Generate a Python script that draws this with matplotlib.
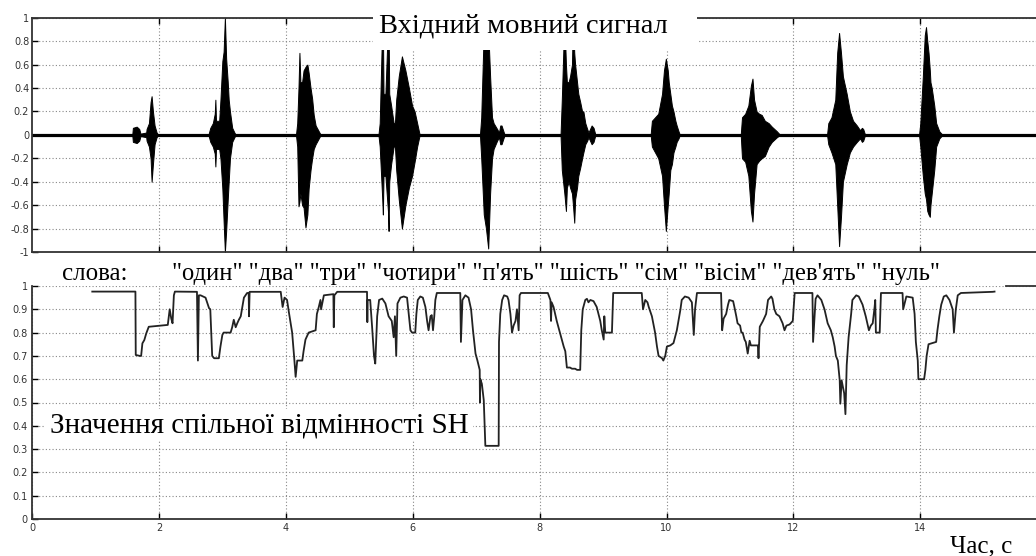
import numpy as np
import matplotlib.pyplot as plt
from matplotlib.patches import Rectangle
from matplotlib.ticker import FormatStrFormatter

# speech signal envelope (upper / lower), seconds
wave_t = [1.58, 1.59, 1.65, 1.69, 1.71, 1.80,
          1.806, 1.843, 1.869, 1.885, 1.906, 1.932, 1.964, 1.99,
          2.78, 2.81, 2.85, 2.88, 2.89, 2.90, 2.95, 2.97, 3.00, 3.02, 3.04, 3.06, 3.085, 3.10, 3.12, 3.155, 3.19, 3.21,
          4.16, 4.18, 4.20, 4.215, 4.23, 4.257, 4.28, 4.31, 4.34, 4.36, 4.39, 4.415, 4.44, 4.47, 4.52, 4.55,
          5.46, 5.48, 5.52, 5.53, 5.54, 5.57, 5.61, 5.62, 5.63, 5.66, 5.70, 5.72,
          5.74, 5.78, 5.83, 5.885, 5.94, 5.99, 6.03, 6.07, 6.11,
          7.06, 7.08, 7.12, 7.155, 7.19, 7.22, 7.25, 7.275, 7.33, 7.36, 7.38, 7.40, 7.43, 7.45,
          8.33, 8.35, 8.39, 8.415, 8.43, 8.457, 8.48, 8.51, 8.526, 8.546, 8.56, 8.59, 8.61, 8.64, 8.67, 8.69, 8.72, 8.75, 8.77, 8.82, 8.85, 8.88,
          9.75, 9.77, 9.82, 9.87, 9.93, 9.96, 9.99, 10.02, 10.035, 10.06, 10.085, 10.11, 10.14, 10.16, 10.19, 10.21,
          11.17, 11.19, 11.24, 11.29, 11.33, 11.355, 11.38, 11.42, 11.46, 11.50, 11.55, 11.61, 11.66, 11.74, 11.79,
          12.53, 12.55, 12.60, 12.66, 12.69, 12.72, 12.75, 12.78, 12.84, 12.89, 12.94, 13.0, 13.05, 13.08, 13.10, 13.13,
          13.98, 14.0, 14.04, 14.07, 14.09, 14.11, 14.13, 14.15, 14.16, 14.18, 14.22, 14.25, 14.30, 14.35]
wave_hi = [0, 0.06, 0.07, 0.05, 0.01, 0.02,
           0.05, 0.10, 0.28, 0.33, 0.20, 0.08, 0.02, 0,
           0, 0.06, 0.10, 0.18, 0.30, 0.12, 0.12, 0.30, 0.63, 0.71, 1.0, 0.65, 0.45, 0.30, 0.20, 0.06, 0.02, 0,
           0, 0.10, 0.40, 0.70, 0.45, 0.45, 0.55, 0.58, 0.60, 0.53, 0.40, 0.31, 0.17, 0.08, 0.03, 0,
           0, 0.10, 0.95, 0.95, 0.35, 0.35, 0.95, 0.95, 0.35, 0.25, 0.10, 0.10,
           0.30, 0.50, 0.67, 0.55, 0.40, 0.25, 0.20, 0.10, 0,
           0, 0.15, 0.90, 1.0, 0.90, 0.50, 0.15, 0.10, 0.05, 0.02, 0.08, 0.08, 0.03, 0,
           0, 0.30, 1.0, 0.60, 0.45, 0.45, 0.50, 0.60, 1.0, 0.70, 0.60, 0.45, 0.35, 0.28, 0.20, 0.20, 0.10, 0.05, 0.02, 0.08, 0.06, 0,
           0, 0.12, 0.15, 0.18, 0.35, 0.55, 0.65, 0.55, 0.45, 0.35, 0.25, 0.20, 0.12, 0.08, 0.03, 0,
           0, 0.15, 0.18, 0.25, 0.42, 0.48, 0.30, 0.20, 0.18, 0.17, 0.12, 0.10, 0.07, 0.03, 0,
           0, 0.10, 0.15, 0.30, 0.70, 0.87, 0.70, 0.50, 0.35, 0.20, 0.12, 0.08, 0.04, 0.06, 0.05, 0,
           0, 0.10, 0.50, 0.85, 0.92, 0.80, 0.70, 0.55, 0.45, 0.40, 0.25, 0.10, 0.03, 0]
wave_lo = [0, -0.06, -0.07, -0.05, -0.01, -0.02,
           -0.05, -0.10, -0.20, -0.40, -0.25, -0.08, -0.02, 0,
           0, -0.06, -0.10, -0.16, -0.27, -0.12, -0.12, -0.20, -0.46, -0.74, -1.0, -0.82, -0.55, -0.40, -0.20, -0.06, -0.02, 0,
           0, -0.10, -0.61, -0.57, -0.50, -0.60, -0.62, -0.79, -0.68, -0.46, -0.30, -0.20, -0.12, -0.08, -0.03, 0,
           0, -0.10, -0.55, -0.68, -0.35, -0.35, -0.65, -0.82, -0.40, -0.25, -0.10, -0.10,
           -0.30, -0.55, -0.80, -0.60, -0.45, -0.35, -0.23, -0.10, 0,
           0, -0.20, -0.68, -0.80, -0.97, -0.50, -0.20, -0.12, -0.05, -0.02, -0.08, -0.08, -0.03, 0,
           0, -0.30, -0.50, -0.65, -0.45, -0.40, -0.45, -0.50, -0.60, -0.75, -0.55, -0.45, -0.35, -0.28, -0.20, -0.15, -0.08, -0.05, -0.02, -0.08, -0.06, 0,
           0, -0.10, -0.15, -0.20, -0.35, -0.60, -0.82, -0.60, -0.50, -0.30, -0.25, -0.15, -0.10, -0.06, -0.03, 0,
           0, -0.20, -0.23, -0.35, -0.65, -0.74, -0.50, -0.25, -0.22, -0.20, -0.18, -0.10, -0.06, -0.02, 0,
           0, -0.08, -0.15, -0.25, -0.60, -0.95, -0.70, -0.40, -0.25, -0.15, -0.10, -0.06, -0.03, -0.06, -0.05, 0,
           0, -0.10, -0.35, -0.50, -0.55, -0.65, -0.68, -0.70, -0.60, -0.50, -0.30, -0.10, -0.03, 0]

# SH values
sh_t = [0.95, 1.63, 1.635, 1.70, 1.72, 1.74, 1.77, 1.80, 1.84, 2.14,
        2.157, 2.17, 2.195, 2.215, 2.236, 2.252, 2.60, 2.615, 2.63, 2.657, 2.735, 2.79, 2.81, 2.84, 2.87, 2.945,
        2.97, 3.0, 3.02, 3.13, 3.155, 3.18, 3.21, 3.235, 3.26, 3.29, 3.34, 3.39, 3.415, 3.42, 3.43, 3.92,
        3.95, 3.98, 4.02, 4.05, 4.10, 4.13, 4.155, 4.18, 4.26, 4.28, 4.31, 4.36, 4.47, 4.49, 4.52, 4.546,
        4.556, 4.60, 4.75, 4.756, 4.765, 4.81, 5.27,
        5.28, 5.285, 5.29, 5.33, 5.36, 5.39, 5.41, 5.44, 5.47, 5.52, 5.57, 5.62, 5.67, 5.70, 5.72, 5.74, 5.76,
        5.806, 5.859, 5.911, 5.937, 5.964, 5.99, 6.04, 6.058, 6.08, 6.12, 6.16, 6.20, 6.227, 6.25, 6.28, 6.30,
        6.32, 6.34, 6.357, 6.38, 6.75, 6.76, 6.784, 6.83, 6.88, 6.92, 6.95, 6.99, 7.02, 7.056, 7.06, 7.066,
        7.09, 7.12, 7.145, 7.355, 7.36, 7.38, 7.41, 7.44, 7.49, 7.51, 7.54, 7.565, 7.59, 7.62, 7.643, 7.67,
        7.685, 7.706, 8.13, 8.17, 8.18, 8.19, 8.22, 8.27, 8.32, 8.38, 8.405, 8.43, 8.48, 8.51, 8.56, 8.59,
        8.64, 8.657, 8.68, 8.72, 8.746, 8.77, 8.80, 8.85, 8.90, 8.956, 8.98, 9.01, 9.02, 9.035, 9.09, 9.14,
        9.16, 9.61, 9.63, 9.665, 9.70, 9.72, 9.77, 9.82, 9.85, 9.875, 9.93, 9.95, 9.98, 10.006, 10.06, 10.11,
        10.163, 10.22, 10.24, 10.29, 10.35, 10.40, 10.43, 10.45, 10.48, 10.86, 10.877, 10.90, 10.94, 10.97,
        10.99, 11.05, 11.07, 11.10, 11.12, 11.16, 11.18, 11.20, 11.23, 11.25, 11.28, 11.31, 11.33, 11.44,
        11.45, 11.47, 11.52, 11.57, 11.60, 11.65, 11.67, 11.70, 11.73, 11.78, 11.83, 11.86, 11.89, 11.94,
        11.99, 12.02, 12.30, 12.31, 12.35, 12.38, 12.44, 12.49, 12.54, 12.59, 12.62, 12.65, 12.67, 12.70,
        12.73, 12.74, 12.76, 12.78, 12.80, 12.82, 12.84, 12.87, 12.91, 12.93, 12.99, 13.03, 13.09, 13.14,
        13.19, 13.22, 13.25, 13.28, 13.29, 13.30, 13.36, 13.38, 13.72, 13.73, 13.78, 13.88, 13.91, 13.93,
        13.96, 13.97, 14.06, 14.08, 14.10, 14.13, 14.25, 14.27, 14.30, 14.33, 14.37, 14.41, 14.46, 14.51,
        14.53, 14.56, 14.59, 14.64, 15.14, 15.17]
sh_v = [0.976, 0.976, 0.704, 0.70, 0.70, 0.754, 0.768, 0.796, 0.825, 0.833,
        0.87, 0.90, 0.86, 0.84, 0.96, 0.976, 0.975, 0.68, 0.96, 0.96, 0.95, 0.905, 0.90, 0.70, 0.69, 0.69,
        0.74, 0.79, 0.80, 0.80, 0.823, 0.855, 0.823, 0.84, 0.855, 0.87, 0.95, 0.97, 0.97, 0.87, 0.975, 0.975,
        0.91, 0.95, 0.94, 0.885, 0.80, 0.70, 0.61, 0.68, 0.68, 0.72, 0.77, 0.80, 0.81, 0.88, 0.91, 0.94,
        0.90, 0.96, 0.965, 0.823, 0.96, 0.975, 0.975,
        0.975, 0.845, 0.94, 0.94, 0.825, 0.70, 0.667, 0.87, 0.94, 0.946, 0.925, 0.87, 0.85, 0.78, 0.87, 0.70, 0.925,
        0.95, 0.955, 0.95, 0.88, 0.81, 0.80, 0.80, 0.88, 0.94, 0.955, 0.95, 0.91, 0.85, 0.81, 0.87, 0.875,
        0.81, 0.87, 0.94, 0.97, 0.97, 0.76, 0.94, 0.96, 0.95, 0.90, 0.81, 0.71, 0.68, 0.64, 0.50, 0.60,
        0.58, 0.51, 0.314, 0.314, 0.76, 0.88, 0.94, 0.96, 0.955, 0.94, 0.88, 0.80, 0.83, 0.85, 0.90, 0.81,
        0.96, 0.97, 0.97, 0.94, 0.85, 0.93, 0.91, 0.85, 0.80, 0.74, 0.72, 0.65, 0.65, 0.645, 0.645, 0.64,
        0.64, 0.81, 0.90, 0.94, 0.945, 0.93, 0.94, 0.935, 0.91, 0.85, 0.81, 0.77, 0.87, 0.80, 0.80, 0.80,
        0.97, 0.97, 0.90, 0.94, 0.93, 0.91, 0.87, 0.80, 0.74, 0.70, 0.69, 0.68, 0.70, 0.74, 0.745, 0.755,
        0.81, 0.90, 0.94, 0.955, 0.95, 0.93, 0.79, 0.90, 0.97, 0.97, 0.81, 0.86, 0.88, 0.92,
        0.94, 0.935, 0.91, 0.87, 0.84, 0.83, 0.80, 0.80, 0.77, 0.76, 0.71, 0.765, 0.745, 0.745,
        0.69, 0.825, 0.85, 0.88, 0.94, 0.955, 0.945, 0.90, 0.88, 0.87, 0.84, 0.81, 0.83, 0.835,
        0.85, 0.97, 0.97, 0.76, 0.945, 0.96, 0.94, 0.90, 0.84, 0.81, 0.78, 0.74, 0.70, 0.68,
        0.595, 0.495, 0.595, 0.567, 0.54, 0.45, 0.66, 0.78, 0.88, 0.94, 0.96, 0.955, 0.92, 0.87,
        0.81, 0.83, 0.84, 0.91, 0.94, 0.80, 0.80, 0.97, 0.97, 0.90, 0.955, 0.95, 0.88, 0.76,
        0.68, 0.60, 0.60, 0.64, 0.70, 0.75, 0.76, 0.81, 0.87, 0.92, 0.955, 0.96, 0.94, 0.90,
        0.80, 0.90, 0.96, 0.97, 0.975, 0.976]

words = '"один" "два" "три" "чотири" "п\'ять" "шість" "сім" "вісім" "дев\'ять" "нуль"'

top_yticks = [-1, -0.8, -0.6, -0.4, -0.2, 0, 0.2, 0.4, 0.6, 0.8, 1]
bot_yticks = [0, 0.1, 0.2, 0.3, 0.4, 0.5, 0.6, 0.7, 0.8, 0.9, 1]

W, H = 1036, 556
serif = 'Liberation Serif'
plt.rcParams['axes.unicode_minus'] = False

def fx(px):
    return px / W

def fy(py):
    return 1 - py / H

fig = plt.figure(figsize=(W / 100, H / 100), dpi=100)
fig.patch.set_facecolor('white')

xl = (0, 16)
left = fx(32)
width = (63.45 * 16) / W

# top: input speech signal
ax1 = fig.add_axes([left, fy(252), width, (252 - 17.7) / H])
ax1.fill_between(wave_t, wave_lo, wave_hi, color='black', lw=0.7, edgecolor='black')
ax1.axhline(0, color='black', lw=2.3)
ax1.set_xlim(*xl)
ax1.set_ylim(-1, 1)
ax1.set_xticks(np.arange(2, 15, 2))
ax1.set_yticks(top_yticks)
ax1.yaxis.set_major_formatter(FormatStrFormatter('%g'))
ax1.tick_params(direction='in', length=4, width=1, top=True, labelbottom=False,
                labelsize=7, labelcolor='#333', pad=2)

# bottom: SH values
ax2 = fig.add_axes([left, fy(519), width, 233 / H])
ax2.plot(sh_t, sh_v, color='#222', lw=1.3)
ax2.set_xlim(*xl)
ax2.set_ylim(0, 1)
ax2.set_xticks(np.arange(0, 15, 2))
ax2.set_yticks(bot_yticks)
ax2.yaxis.set_major_formatter(FormatStrFormatter('%g'))
ax2.tick_params(direction='in', length=4, width=1, labelsize=7, labelcolor='#333', pad=3)
ax2.spines['top'].set_bounds(15.35, 16)

for ax in (ax1, ax2):
    ax.grid(True, linestyle=(0, (1, 2)), color='#888', lw=0.8)
    ax.set_axisbelow(True)
    for s in ax.spines.values():
        s.set_linewidth(1.3)
        s.set_color('#333')

# white boxes behind the labels
fig.add_artist(Rectangle((fx(373), fy(50)), (697 - 373) / W, 50 / H, transform=fig.transFigure,
                         facecolor='white', edgecolor='none', zorder=5))
fig.add_artist(Rectangle((fx(45), fy(440)), (473 - 45) / W, 31 / H, transform=fig.transFigure,
                         facecolor='white', edgecolor='none', zorder=5))

fig.text(fx(523), fy(33), 'Вхідний мовний сигнал', family=serif, fontsize=20.5,
         ha='center', va='baseline', zorder=6)
fig.text(fx(62), fy(280), 'слова:', family=serif, fontsize=18, va='baseline', zorder=6)
fig.text(fx(172), fy(280), words, family=serif, fontsize=17.7, va='baseline', zorder=6)
fig.text(fx(50), fy(432), 'Значення спільної відмінності SH', family=serif, fontsize=21,
         va='baseline', zorder=6)
fig.text(fx(950), fy(552), 'Час, с', family=serif, fontsize=18, va='baseline', zorder=6)

fig.savefig('out.png', dpi=100)
